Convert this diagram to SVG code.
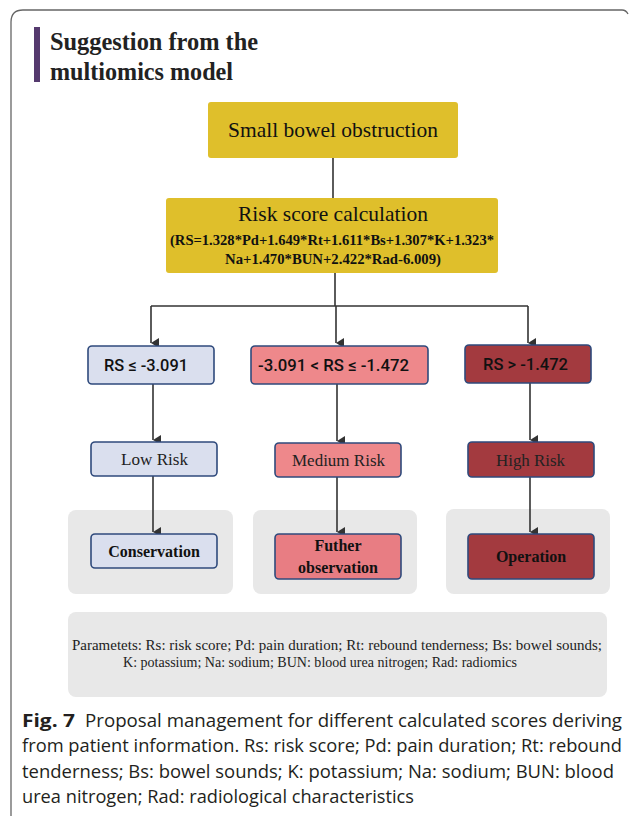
<svg xmlns="http://www.w3.org/2000/svg" width="629" height="816" viewBox="0 0 629 816">
<style>
.lib{font-family:"Liberation Serif",serif;}
.sans{font-family:Roboto,"Liberation Sans",sans-serif;}
.cap{font-family:"Open Sans","Noto Sans",sans-serif;font-size:18px;fill:#231f20;}
.box{stroke:#2f4a7c;stroke-width:1.6;}
.gold{fill:#dfbf2b;}
.blue{fill:#dadfee;}
.pink{fill:#ee888b;}
.pink2{fill:#e87d83;}
.red{fill:#a33a3f;}
.grey{fill:#e8e8e8;}
.conn{stroke:#333;stroke-width:1.6;fill:none;}
</style>
<defs>
<marker id="arr" markerWidth="10" markerHeight="10" refX="5" refY="8" orient="auto-start-reverse" markerUnits="userSpaceOnUse" viewBox="0 0 10 10">
<path d="M0,0 L5,8 L10,0 Z" fill="#333"/>
</marker>
</defs>
<rect width="629" height="816" fill="#fff"/>
<path d="M11,816 L11,22 Q11,10 23,10 L622,10 Q626,10 628,14" fill="none" stroke="#666" stroke-width="1.3"/>
<rect x="34" y="27" width="6" height="55" fill="#553a6e"/>
<g id="title">
<text class="lib" x="50" y="50" font-size="25" font-weight="bold" fill="#222" textLength="208" lengthAdjust="spacingAndGlyphs">Suggestion from the</text>
<text class="lib" x="50" y="80" font-size="25" font-weight="bold" fill="#222" textLength="183" lengthAdjust="spacingAndGlyphs">multiomics model</text>
</g>
<g id="grey-panels">
<rect class="grey" x="68" y="510" width="165" height="84" rx="8"/>
<rect class="grey" x="253" y="510" width="164" height="84" rx="8"/>
<rect class="grey" x="446" y="509" width="164" height="85" rx="8"/>
</g>
<g id="connectors">
<path class="conn" d="M333,158 V198"/>
<path class="conn" d="M335,273 V306"/>
<path class="conn" d="M151,306 H528"/>
<path class="conn" d="M151,306 V343" marker-end="url(#arr)"/>
<path class="conn" d="M336,306 V343" marker-end="url(#arr)"/>
<path class="conn" d="M528,306 V343" marker-end="url(#arr)"/>
<path class="conn" d="M153,384 V440" marker-end="url(#arr)"/>
<path class="conn" d="M337,384 V441" marker-end="url(#arr)"/>
<path class="conn" d="M530,383 V440" marker-end="url(#arr)"/>
<path class="conn" d="M153,476 V532" marker-end="url(#arr)"/>
<path class="conn" d="M337,477 V532" marker-end="url(#arr)"/>
<path class="conn" d="M530,477 V532" marker-end="url(#arr)"/>
</g>
<g id="sbo">
<rect class="gold" x="208" y="102" width="250" height="56" rx="3"/>
<text class="lib" x="333" y="137" font-size="22" text-anchor="middle" fill="#111" textLength="210" lengthAdjust="spacingAndGlyphs">Small bowel obstruction</text>
</g>
<g id="risk-calc">
<rect class="gold" x="166" y="198" width="332" height="75" rx="3"/>
<text class="lib" x="333" y="221" font-size="22" text-anchor="middle" fill="#111" textLength="190" lengthAdjust="spacingAndGlyphs">Risk score calculation</text>
<text class="lib" x="332" y="245" font-size="14" font-weight="bold" text-anchor="middle" fill="#111" textLength="324" lengthAdjust="spacingAndGlyphs">(RS=1.328*Pd+1.649*Rt+1.611*Bs+1.307*K+1.323*</text>
<text class="lib" x="333" y="264" font-size="14" font-weight="bold" text-anchor="middle" fill="#111" textLength="216" lengthAdjust="spacingAndGlyphs">Na+1.470*BUN+2.422*Rad-6.009)</text>
</g>
<g id="rs-low">
<rect class="box blue" x="88" y="346" width="126" height="38" rx="4"/>
<text class="sans" x="146" y="371" font-size="17" font-weight="500" text-anchor="middle" fill="#111" textLength="84" lengthAdjust="spacingAndGlyphs">RS ≤ -3.091</text>
</g>
<g id="rs-mid">
<rect class="box pink" x="251" y="346" width="177" height="38" rx="4"/>
<text class="sans" x="333.5" y="371" font-size="17" font-weight="500" text-anchor="middle" fill="#111" textLength="151" lengthAdjust="spacingAndGlyphs">-3.091 &lt; RS ≤ -1.472</text>
</g>
<g id="rs-high">
<rect class="box red" x="465" y="345" width="126" height="38" rx="4"/>
<text class="sans" x="525.5" y="370" font-size="17" font-weight="500" text-anchor="middle" fill="#111" textLength="85" lengthAdjust="spacingAndGlyphs">RS &gt; -1.472</text>
</g>
<g id="low-risk">
<rect class="box blue" x="91" y="442" width="126" height="34" rx="4"/>
<text class="lib" x="154.5" y="465" font-size="17" text-anchor="middle" fill="#222" textLength="67" lengthAdjust="spacingAndGlyphs">Low Risk</text>
</g>
<g id="medium-risk">
<rect class="box pink" x="275" y="443" width="126" height="34" rx="4"/>
<text class="lib" x="338.5" y="466" font-size="17" text-anchor="middle" fill="#222" textLength="93" lengthAdjust="spacingAndGlyphs">Medium Risk</text>
</g>
<g id="high-risk">
<rect class="box red" x="468" y="442" width="126" height="35" rx="4"/>
<text class="lib" x="530.5" y="466" font-size="17" text-anchor="middle" fill="#222" textLength="69" lengthAdjust="spacingAndGlyphs">High Risk</text>
</g>
<g id="conservation">
<rect class="box blue" x="91" y="534" width="126" height="34" rx="4"/>
<text class="lib" x="154" y="557" font-size="16" font-weight="bold" text-anchor="middle" fill="#111">Conservation</text>
</g>
<g id="further">
<rect class="box pink2" x="275" y="534" width="126" height="45" rx="4"/>
<text class="lib" x="338" y="551" font-size="16" font-weight="bold" text-anchor="middle" fill="#111">Futher</text>
<text class="lib" x="338" y="573" font-size="16" font-weight="bold" text-anchor="middle" fill="#111">observation</text>
</g>
<g id="operation">
<rect class="box red" x="468" y="534" width="126" height="45" rx="4"/>
<text class="lib" x="531" y="562" font-size="16" font-weight="bold" text-anchor="middle" fill="#111">Operation</text>
</g>
<g id="params">
<rect class="grey" x="68" y="612" width="539" height="85" rx="8"/>
<text class="lib" x="337" y="650" font-size="15" text-anchor="middle" fill="#222" textLength="530" lengthAdjust="spacingAndGlyphs">Parametets: Rs: risk score; Pd: pain duration; Rt: rebound tenderness; Bs: bowel sounds;</text>
<text class="lib" x="320" y="667" font-size="15" text-anchor="middle" fill="#222" textLength="394" lengthAdjust="spacingAndGlyphs">K: potassium; Na: sodium; BUN: blood urea nitrogen; Rad: radiomics</text>
</g>
<g id="caption">
<text class="cap" x="22" y="727" font-weight="bold" textLength="53" lengthAdjust="spacingAndGlyphs">Fig. 7</text>
<text class="cap" x="85" y="727" textLength="537" lengthAdjust="spacingAndGlyphs">Proposal management for different calculated scores deriving</text>
<text class="cap" x="22" y="752" textLength="600" lengthAdjust="spacingAndGlyphs">from patient information. Rs: risk score; Pd: pain duration; Rt: rebound</text>
<text class="cap" x="22" y="778" textLength="592" lengthAdjust="spacingAndGlyphs">tenderness; Bs: bowel sounds; K: potassium; Na: sodium; BUN: blood</text>
<text class="cap" x="22" y="803" textLength="392" lengthAdjust="spacingAndGlyphs">urea nitrogen; Rad: radiological characteristics</text>
</g>
</svg>
